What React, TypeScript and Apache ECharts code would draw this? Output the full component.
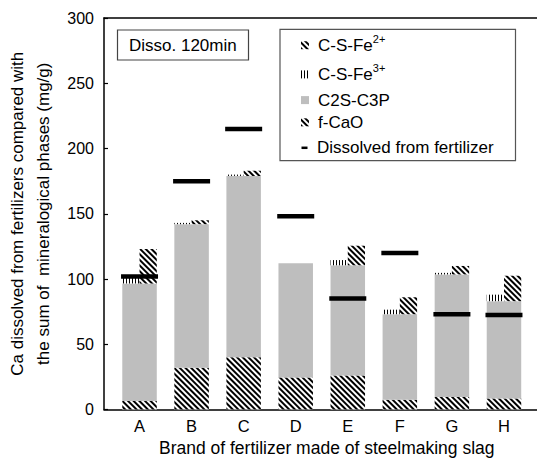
import React, { useEffect, useRef } from "react";
import * as echarts from "echarts";

// Brands of fertilizer made of steelmaking slag
const categories = ["A", "B", "C", "D", "E", "F", "G", "H"];

// Ca dissolved per mineralogical phase (mg/g)
const feIIValues = [6.5, 32, 40, 24.5, 26, 7.5, 9.5, 8.5];
const c2sC3pValues = [90, 110, 139, 87.5, 84.5, 65.5, 94, 74.5];
const feIIIValues = [4.5, 1, 1, 0, 4, 3.5, 1.2, 5];
const fCaOValues = [26.5, 3, 4, 0, 15, 13, 6.5, 19.5];

// Ca dissolved from the fertilizer itself (mg/g)
const dissolvedValues = [102, 175, 215, 148, 85, 120, 73, 72.5];

const yMin = 0;
const yMax = 300;
const yInterval = 50;

const FONT = 'Arial, "Liberation Sans", Helvetica, sans-serif';

const diagonalHatch = {
  symbol: "rect",
  symbolSize: 1,
  color: "#000",
  backgroundColor: "rgba(0,0,0,0)",
  dashArrayX: [1, 0],
  dashArrayY: [2, 2],
  rotation: Math.PI / 4,
};

const verticalHatch = {
  symbol: "rect",
  symbolSize: 1,
  color: "#000",
  backgroundColor: "rgba(0,0,0,0)",
  dashArrayX: [1, 2],
  dashArrayY: [4, 0],
  rotation: 0,
};

const legendRich = {
  t: { fontSize: 17, lineHeight: 24, fontFamily: FONT, color: "#000" },
  s: { fontSize: 11, lineHeight: 11, padding: [0, 0, 13, 0], fontFamily: FONT, color: "#000" },
};

const legendLabel = (name: string) => {
  if (name === "C-S-Fe2+") return "{t|C-S-Fe}{s|2+}";
  if (name === "C-S-Fe3+") return "{t|C-S-Fe}{s|3+}";
  return `{t|${name}}`;
};

const transparent = { color: "rgba(0,0,0,0)" };

function buildOption() {
  const frameLine = { show: true, lineStyle: { color: "#000", width: 1.5 } };
  return {
    animation: false,
    backgroundColor: "#fff",
    title: {
      text: "Disso. 120min",
      left: 117,
      top: 29.5,
      padding: [6, 12],
      borderColor: "#444",
      borderWidth: 1.2,
      textStyle: { fontSize: 17, fontWeight: "normal", color: "#000", fontFamily: FONT, lineHeight: 19 },
    },
    grid: [
      { left: 104, right: 0, top: 18, bottom: 49.5, outerBoundsMode: "none", containLabel: false },
      { left: 113.5, right: 7, top: 18, bottom: 49.5, outerBoundsMode: "none", containLabel: false },
    ],
    legend: [
      {
        data: ["C-S-Fe2+", "C-S-Fe3+", "C2S-C3P", "f-CaO"],
        orient: "vertical",
        left: 301,
        top: 33.2,
        padding: 0,
        itemGap: 5.2,
        itemWidth: 8,
        itemHeight: 8,
        icon: "rect",
        formatter: legendLabel,
        textStyle: { padding: [0, 0, 0, 4], rich: legendRich },
        selectedMode: false,
      },
      {
        data: ["Dissolved from fertilizer"],
        orient: "vertical",
        left: 301.5,
        top: 137.8,
        padding: 0,
        itemWidth: 6,
        itemHeight: 2.5,
        icon: "rect",
        textStyle: { fontSize: 17, lineHeight: 20, color: "#000", fontFamily: FONT, padding: [0, 0, 0, 4.5] },
        selectedMode: false,
      },
    ],
    graphic: [
      {
        type: "rect",
        shape: { x: 280, y: 29.3, width: 235.5, height: 131.4 },
        style: { fill: "none", stroke: "#555", lineWidth: 1.2 },
        z: 1,
      },
    ],
    xAxis: [
      {
        type: "value",
        gridIndex: 0,
        position: "bottom",
        min: 0,
        max: 1,
        axisLine: frameLine,
        axisTick: { show: false },
        axisLabel: { show: false },
        splitLine: { show: false },
      },
      {
        type: "value",
        gridIndex: 0,
        position: "top",
        min: 0,
        max: 1,
        axisLine: frameLine,
        axisTick: { show: false },
        axisLabel: { show: false },
        splitLine: { show: false },
      },
      {
        type: "category",
        gridIndex: 1,
        data: categories,
        axisLine: { show: false },
        axisTick: { show: false },
        axisLabel: { fontSize: 16.5, color: "#000", fontFamily: FONT, margin: 7.5 },
        name: "Brand of fertilizer made of steelmaking slag",
        nameLocation: "middle",
        nameGap: 28,
        nameTextStyle: { fontSize: 17.5, color: "#000", fontFamily: FONT, padding: [0, 0, 0, 10] },
      },
      {
        type: "category",
        gridIndex: 1,
        data: categories,
        show: false,
      },
    ],
    yAxis: [
      {
        type: "value",
        gridIndex: 0,
        min: yMin,
        max: yMax,
        interval: yInterval,
        axisLine: frameLine,
        axisTick: { show: true, inside: true, length: 4, lineStyle: { color: "#000", width: 1.2 } },
        axisLabel: { fontSize: 16, color: "#000", fontFamily: FONT, margin: 10 },
        splitLine: { show: false },
        name: "Ca dissolved from fertilizers compared with\nthe sum of  mineralogical phases (mg/g)",
        nameLocation: "middle",
        nameRotate: 90,
        nameGap: 42,
        nameTextStyle: { fontSize: 17, lineHeight: 26, color: "#000", fontFamily: FONT },
      },
      {
        type: "value",
        gridIndex: 1,
        min: yMin,
        max: yMax,
        interval: yInterval,
        show: false,
        splitLine: { show: false },
      },
    ],
    series: [
      {
        name: "C-S-Fe2+",
        type: "bar",
        xAxisIndex: 2,
        yAxisIndex: 1,
        stack: "main",
        barWidth: 34.5,
        data: feIIValues,
        itemStyle: { color: "#fff", decal: diagonalHatch },
      },
      {
        name: "C2S-C3P",
        type: "bar",
        xAxisIndex: 2,
        yAxisIndex: 1,
        stack: "main",
        barWidth: 34.5,
        data: c2sC3pValues,
        itemStyle: { color: "#bebebe" },
      },
      // left half: C-S-Fe3+ resting on the main column
      {
        name: "baseL1",
        type: "bar",
        xAxisIndex: 3,
        yAxisIndex: 1,
        stack: "L",
        barWidth: 17.25,
        barGap: "0%",
        silent: true,
        data: feIIValues,
        itemStyle: transparent,
      },
      {
        name: "baseL2",
        type: "bar",
        xAxisIndex: 3,
        yAxisIndex: 1,
        stack: "L",
        barWidth: 17.25,
        barGap: "0%",
        silent: true,
        data: c2sC3pValues,
        itemStyle: transparent,
      },
      {
        name: "C-S-Fe3+",
        type: "bar",
        xAxisIndex: 3,
        yAxisIndex: 1,
        stack: "L",
        barWidth: 17.25,
        barGap: "0%",
        data: feIIIValues,
        itemStyle: { color: "#fff", decal: verticalHatch },
      },
      // right half: f-CaO resting on the main column
      {
        name: "baseR1",
        type: "bar",
        xAxisIndex: 3,
        yAxisIndex: 1,
        stack: "R",
        barWidth: 17.25,
        barGap: "0%",
        silent: true,
        data: feIIValues,
        itemStyle: transparent,
      },
      {
        name: "baseR2",
        type: "bar",
        xAxisIndex: 3,
        yAxisIndex: 1,
        stack: "R",
        barWidth: 17.25,
        barGap: "0%",
        silent: true,
        data: c2sC3pValues,
        itemStyle: transparent,
      },
      {
        name: "f-CaO",
        type: "bar",
        xAxisIndex: 3,
        yAxisIndex: 1,
        stack: "R",
        barWidth: 17.25,
        barGap: "0%",
        data: fCaOValues,
        itemStyle: { color: "#fff", decal: diagonalHatch },
      },
      {
        name: "Dissolved from fertilizer",
        type: "scatter",
        xAxisIndex: 2,
        yAxisIndex: 1,
        symbol: "rect",
        symbolSize: [37, 4.5],
        data: dissolvedValues,
        itemStyle: { color: "#000", opacity: 1 },
        z: 5,
      },
    ],
  };
}

export default function App() {
  const ref = useRef<HTMLDivElement>(null);
  useEffect(() => {
    if (!ref.current) return;
    const chart = echarts.init(ref.current, null, { renderer: "svg" });
    chart.setOption(buildOption() as any);
    return () => chart.dispose();
  }, []);
  return (
    <div
      ref={ref}
      style={{ position: "fixed", left: 0, top: 0, width: 537, height: 459, background: "#fff" }}
    />
  );
}
